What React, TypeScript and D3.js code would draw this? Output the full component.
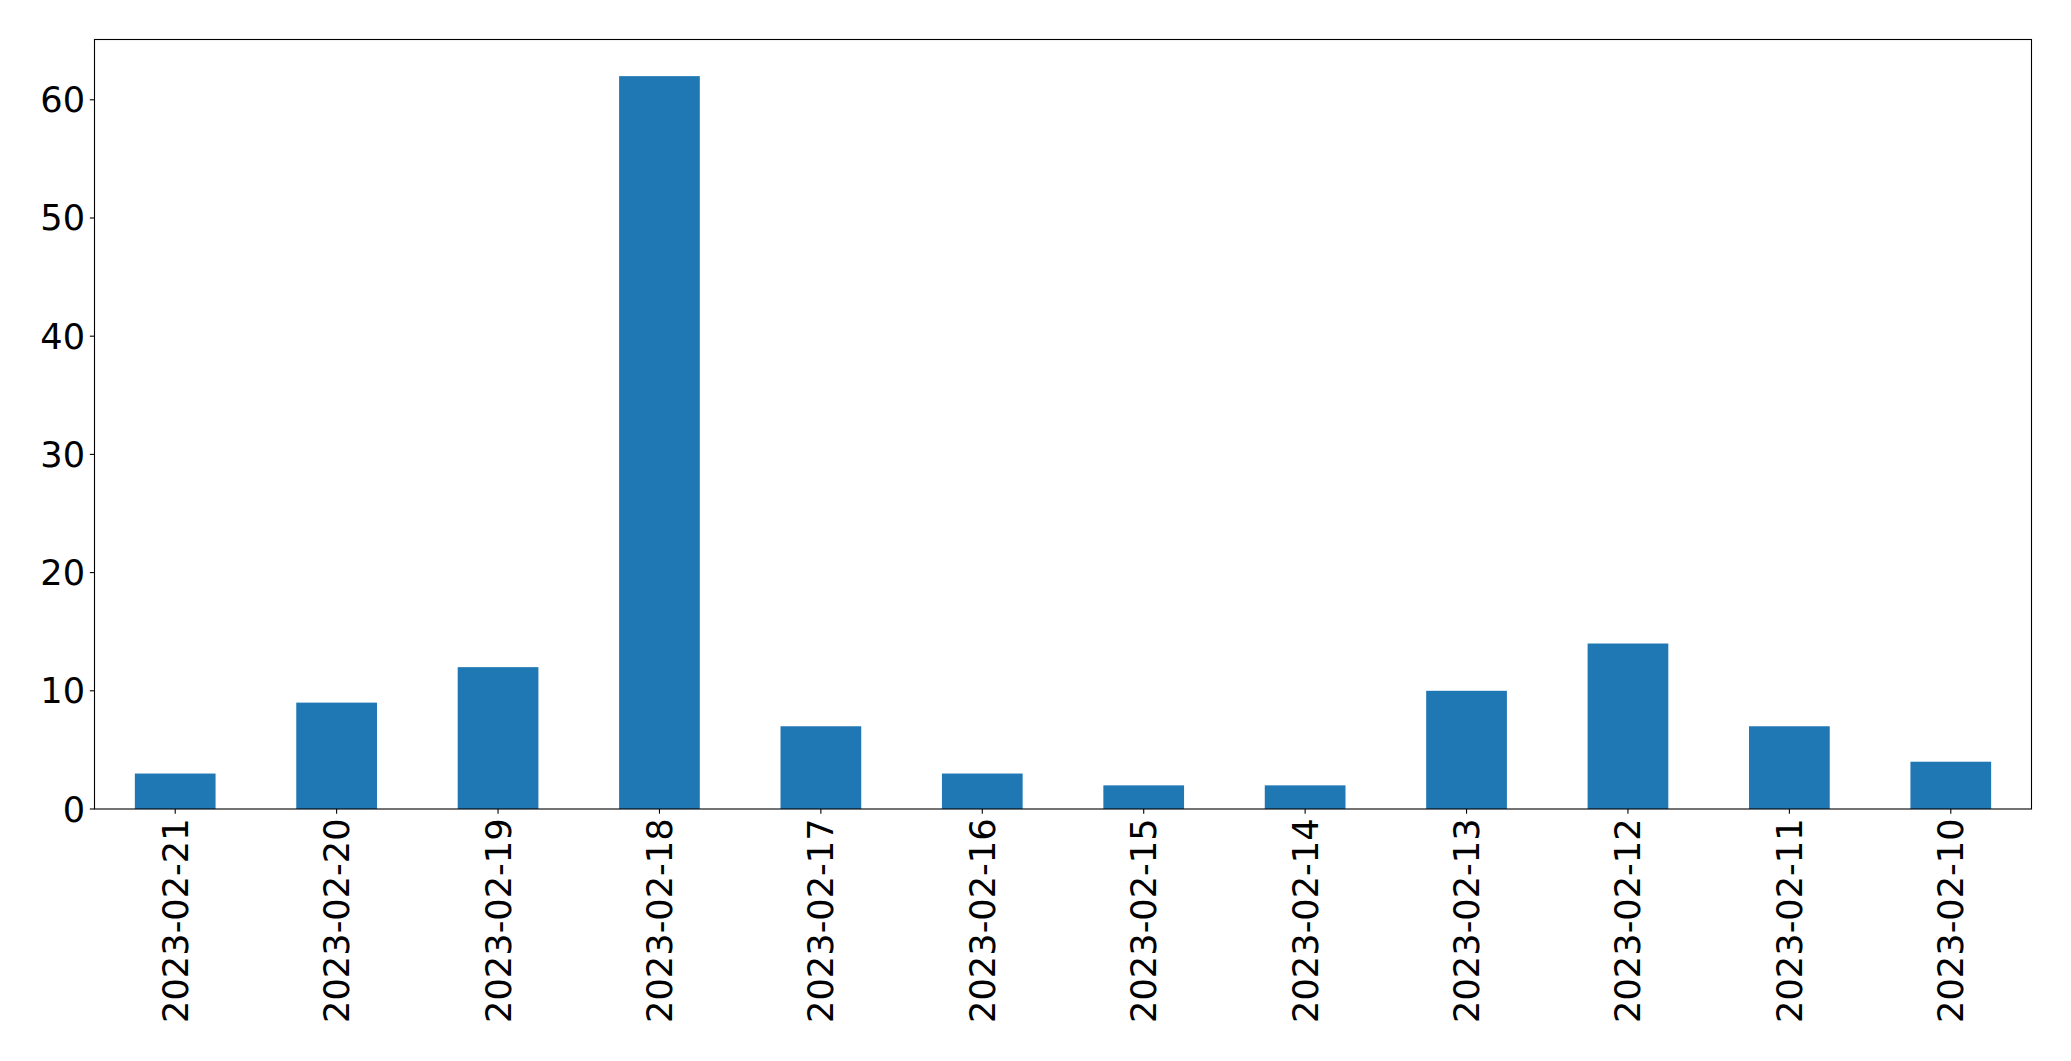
import React from "react";
import * as d3 from "d3";

const categories = [
  "2023-02-21", "2023-02-20", "2023-02-19", "2023-02-18", "2023-02-17", "2023-02-16",
  "2023-02-15", "2023-02-14", "2023-02-13", "2023-02-12", "2023-02-11", "2023-02-10",
];
const values = [3, 9, 12, 62, 7, 3, 2, 2, 10, 14, 7, 4];
const yTicks = [0, 10, 20, 30, 40, 50, 60];

const W = 2071;
const H = 1061;
const left = 94.5;
const right = 2031.5;
const top = 39.5;
const bottom = 809;
const FONT = "'DejaVu Sans', sans-serif";
const FS = 35.2;

export default function App() {
  const x = d3
    .scaleBand<string>()
    .domain(categories)
    .range([left, right])
    .paddingInner(0.5)
    .paddingOuter(0.25);
  const yMax = d3.max(values)! * 1.05;
  const y = d3.scaleLinear().domain([0, yMax]).range([bottom, top]);
  const tick = 4.7;
  const pad = 4.7;

  return (
    <svg
      width={W}
      height={H}
      style={{ position: "fixed", left: 0, top: 0, background: "#fff" }}
      fontFamily={FONT}
    >
      <rect x={0} y={0} width={W} height={H} fill="#fff" />
      {categories.map((c, i) => (
        <rect
          key={c}
          x={x(c)!}
          y={y(values[i])}
          width={x.bandwidth()}
          height={y(0) - y(values[i])}
          fill="#1f77b4"
        />
      ))}
      <rect
        x={left}
        y={top}
        width={right - left}
        height={bottom - top}
        fill="none"
        stroke="#000"
        strokeWidth={1.1}
      />
      {yTicks.map((t) => (
        <g key={t}>
          <line x1={left - tick} x2={left} y1={y(t)} y2={y(t)} stroke="#000" strokeWidth={1.1} />
          <text
            x={left - tick - pad}
            y={y(t)}
            textAnchor="end"
            dominantBaseline="central"
            fontSize={FS}
            fill="#000"
          >
            {t}
          </text>
        </g>
      ))}
      {categories.map((c) => {
        const cx = x(c)! + x.bandwidth() / 2;
        const ty = bottom + tick + pad;
        return (
          <g key={c}>
            <line x1={cx} x2={cx} y1={bottom} y2={bottom + tick} stroke="#000" strokeWidth={1.1} />
            <text
              transform={`translate(${cx},${ty}) rotate(-90)`}
              textAnchor="end"
              dominantBaseline="central"
              fontSize={FS}
              fill="#000"
            >
              {c}
            </text>
          </g>
        );
      })}
    </svg>
  );
}
